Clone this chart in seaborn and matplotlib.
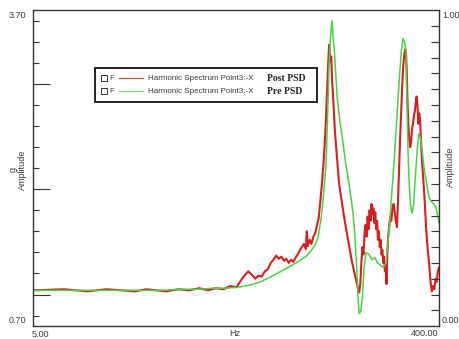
import pandas as pd
import matplotlib.pyplot as plt
import seaborn as sns
from matplotlib.ticker import FixedLocator, NullFormatter
from matplotlib.patches import Rectangle
from matplotlib.lines import Line2D

# Post PSD (red) response
red_hz = [5, 7, 9, 11, 13, 15, 17, 19, 21, 24, 27, 30, 33, 36, 39, 42, 45, 47, 49, 51,
          53, 55, 57, 59, 61, 63, 65, 67, 69, 71, 73, 75, 77, 79, 81, 83, 85, 87, 89, 91,
          93, 95, 96, 97, 99, 101, 103, 105, 107, 109, 111, 113, 115, 117, 119, 121, 122, 123, 124, 125,
          126, 128, 130, 133, 136, 140, 144, 148, 152, 156, 160, 164, 167, 169, 171, 173, 175, 177, 179, 181,
          183, 185, 187, 189, 191, 193, 195, 197, 199, 201, 203, 205, 207, 209, 211, 213, 215, 217, 219, 221,
          223, 225, 227, 229, 231, 233, 236, 239, 242, 245, 248, 251, 254, 257, 260, 263, 266, 269, 272, 275,
          278, 280, 282, 284, 287, 290, 293, 296, 299, 302, 305, 308, 311, 314, 317, 320, 323, 326, 329, 332,
          336, 340, 345, 350, 355, 360, 365, 370, 375, 380, 385, 390, 395, 400]
red_amp = [1.04, 1.05, 1.03, 1.05, 1.04, 1.03, 1.05, 1.04, 1.03, 1.05, 1.04, 1.06, 1.04, 1.06, 1.05, 1.08, 1.07, 1.13, 1.18, 1.22,
           1.19, 1.15, 1.18, 1.17, 1.22, 1.24, 1.30, 1.33, 1.37, 1.34, 1.36, 1.32, 1.34, 1.30, 1.33, 1.31, 1.35, 1.38, 1.42, 1.45,
           1.48, 1.43, 1.60, 1.46, 1.52, 1.48, 1.55, 1.58, 1.65, 1.72, 1.88, 2.05, 2.25, 2.50, 2.85, 3.20, 3.37, 3.30, 3.22, 3.26,
           3.05, 2.82, 2.55, 2.30, 2.05, 1.88, 1.72, 1.58, 1.45, 1.32, 1.22, 1.12, 1.05, 1.02, 1.10, 1.30, 1.45, 1.38, 1.58, 1.66,
           1.55, 1.74, 1.62, 1.80, 1.70, 1.86, 1.76, 1.82, 1.68, 1.78, 1.62, 1.70, 1.52, 1.60, 1.45, 1.52, 1.38, 1.42, 1.30, 1.36,
           1.22, 1.28, 1.10, 1.40, 1.55, 1.62, 1.74, 1.70, 1.82, 1.86, 1.78, 1.70, 1.64, 1.90, 2.20, 2.50, 2.75, 3.00, 3.18, 3.28,
           3.33, 3.30, 3.15, 2.90, 2.62, 2.48, 2.40, 2.45, 2.58, 2.62, 2.70, 2.74, 2.82, 2.88, 2.80, 2.62, 2.72, 2.66, 2.48, 2.30,
           2.15, 2.00, 1.78, 1.55, 1.40, 1.28, 1.12, 1.03, 1.08, 1.05, 1.15, 1.12, 1.22, 1.26]

# Pre PSD (green) response
green_hz = [5, 10, 15, 20, 25, 30, 35, 40, 46, 52, 58, 64, 71, 79, 87, 95, 100, 104, 108, 112,
            115, 118, 120, 122, 124, 126, 128, 129, 133, 137, 141, 146, 152, 158, 160, 163, 165, 167, 169, 172,
            175, 178, 182, 188, 194, 200, 206, 212, 218, 222, 226, 229, 233, 238, 243, 248, 254, 260, 266, 271,
            276, 280, 283, 286, 290, 294, 299, 304, 308, 312, 317, 322, 328, 334, 340, 350, 359, 370, 387, 400]
green_amp = [1.04, 1.04, 1.04, 1.04, 1.05, 1.05, 1.06, 1.06, 1.07, 1.09, 1.12, 1.16, 1.21, 1.26, 1.31, 1.36, 1.41, 1.46, 1.53, 1.72,
             1.95, 2.22, 2.65, 3.17, 3.45, 3.60, 3.40, 3.34, 2.89, 2.65, 2.48, 2.25, 2.03, 1.78, 1.65, 1.40, 1.21, 0.95, 0.82, 0.84,
             0.98, 1.25, 1.40, 1.38, 1.33, 1.35, 1.30, 1.28, 1.26, 1.27, 1.30, 1.45, 1.59, 1.85, 2.10, 2.35, 2.70, 3.02, 3.30, 3.43,
             3.40, 3.31, 2.80, 2.38, 2.05, 1.85, 1.77, 1.85, 2.05, 2.21, 2.40, 2.53, 2.48, 2.35, 2.21, 2.05, 1.92, 1.88, 1.83, 1.68]

red = pd.DataFrame({'Hz': red_hz, 'amp': red_amp})
green = pd.DataFrame({'Hz': green_hz, 'amp': green_amp})

sns.set_style('white')
plt.rcParams['font.family'] = ['Liberation Sans', 'DejaVu Sans']

RED = '#d81e1e'
GREEN = '#44d444'
TXT = '#3a3a3a'

fig = plt.figure(figsize=(4.59, 3.39), dpi=100)
ax = fig.add_axes([0.072, 0.038, 0.8845, 0.932])

sns.lineplot(data=red, x='Hz', y='amp', color=RED, lw=1.5, sort=False, estimator=None, ax=ax)
sns.lineplot(data=green, x='Hz', y='amp', color=GREEN, lw=1.1, sort=False, estimator=None, ax=ax)

ax.set_xscale('log')
ax.set_xlim(5, 400)
ax.set_ylim(0.7, 3.7)
ax.set_xlabel('')
ax.set_ylabel('')

for s in ax.spines.values():
    s.set_color('#333333')
    s.set_linewidth(1.0)

# x ticks: long at decades, short in between, all inward
ax.xaxis.set_major_locator(FixedLocator([10, 100]))
ax.xaxis.set_minor_locator(FixedLocator([6, 7, 8, 9, 20, 30, 40, 50, 60, 70, 80, 90, 200, 300]))
ax.xaxis.set_major_formatter(NullFormatter())
ax.xaxis.set_minor_formatter(NullFormatter())
ax.tick_params(axis='x', which='major', direction='in', length=10, width=0.8, color='#333333')
ax.tick_params(axis='x', which='minor', direction='in', length=5, width=0.8, color='#333333')

# left y ticks
ax.yaxis.set_major_locator(FixedLocator([1, 2, 3]))
ax.yaxis.set_minor_locator(FixedLocator([0.8, 1.2, 1.4, 1.6, 1.8, 2.2, 2.4, 2.6, 2.8, 3.2, 3.4, 3.6]))
ax.yaxis.set_major_formatter(NullFormatter())
ax.tick_params(axis='y', which='major', direction='in', length=12, width=0.8, color='#333333')
ax.tick_params(axis='y', which='minor', direction='in', length=4, width=0.8, color='#333333')

# right axis 0..1
ax2 = ax.twinx()
ax2.set_ylim(0, 1)
ax2.yaxis.set_major_locator(FixedLocator([i * 0.05 for i in range(1, 20)]))
ax2.yaxis.set_major_formatter(NullFormatter())
ax2.tick_params(axis='y', which='major', direction='in', length=6, width=0.8, color='#333333')
for s in ax2.spines.values():
    s.set_visible(False)

fs = 6.5
fig.text(0.019, 0.955, '3.70', fontsize=fs, color=TXT, va='center')
fig.text(0.019, 0.056, '0.70', fontsize=fs, color=TXT, va='center')
fig.text(0.963, 0.955, '1.00', fontsize=fs, color=TXT, va='center')
fig.text(0.963, 0.056, '0.00', fontsize=fs, color=TXT, va='center')
fig.text(0.087, 0.012, '5.00', fontsize=fs, color=TXT, ha='center', va='center')
fig.text(0.924, 0.015, '400.00', fontsize=fs, color=TXT, ha='center', va='center')
fig.text(0.512, 0.015, 'Hz', fontsize=fs, color=TXT, ha='center', va='center')
fig.text(0.028, 0.50, 'g', fontsize=fs, color=TXT, rotation=90, ha='center', va='center')
fig.text(0.050, 0.50, 'Amplitude', fontsize=fs, color=TXT, rotation=90, ha='center', va='center')
fig.text(0.982, 0.507, 'Amplitude', fontsize=fs, color=TXT, rotation=90, ha='center', va='center')

# legend box drawn by hand
tr = ax.transAxes
ax.add_patch(Rectangle((0.152, 0.709), 0.548, 0.107, transform=tr, fill=False,
                       ec='#222222', lw=1.4, zorder=5))
rows = [(0.785, '#b5583f', 'Post PSD'), (0.744, '#7ed87e', 'Pre PSD')]
for y, c, tag in rows:
    ax.add_patch(Rectangle((0.167, y - 0.0095), 0.0147, 0.019, transform=tr, fill=False,
                           ec='#333333', lw=0.7, zorder=6))
    ax.text(0.188, y, 'F', transform=tr, fontsize=5.8, color=TXT, va='center', zorder=6)
    ax.add_line(Line2D([0.211, 0.270], [y, y], transform=tr, color=c, lw=0.9, zorder=6))
    ax.text(0.283, y, 'Harmonic Spectrum Point3:-X', transform=tr, fontsize=5.8,
            color=TXT, va='center', zorder=6)
    ax.text(0.577, y, tag, transform=tr, fontsize=7, family=['Liberation Serif', 'DejaVu Serif'],
            weight='bold', color='#222222', va='center', zorder=6)

plt.savefig('out.png', dpi=100)
